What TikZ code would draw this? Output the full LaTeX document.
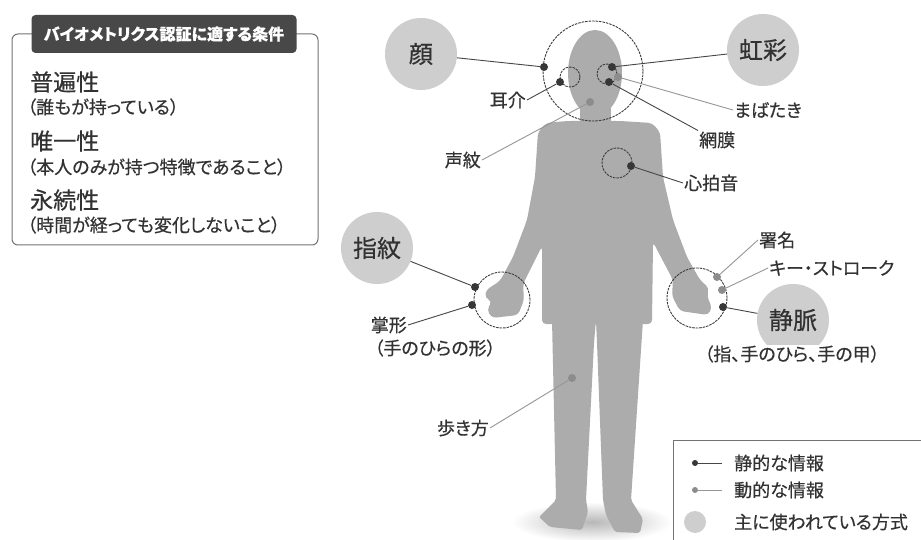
\documentclass[tikz,border=0pt]{standalone}
\usepackage{fontspec}
\setmainfont{Noto Sans CJK JP}[RawFeature={+palt}, FakeBold=0.5]
\usepackage{tikz}
\usetikzlibrary{positioning}
\usepackage{xcolor}

\definecolor{bodyGray}{RGB}{172,172,172}
\definecolor{labelGray}{RGB}{206,206,206}
\definecolor{dotDark}{RGB}{55,55,55}
\definecolor{dotLight}{RGB}{140,140,140}
\definecolor{lineDark}{RGB}{70,70,70}
\definecolor{lineLight}{RGB}{150,150,150}
\definecolor{ringDark}{RGB}{60,60,60}
\definecolor{textGray}{RGB}{50,50,50}
\definecolor{titleDark}{RGB}{72,72,72}
\definecolor{frameGray}{RGB}{115,115,115}

\begin{document}
\begin{tikzpicture}[x=1pt, y=-1pt,
  bigLabel/.style={circle, fill=labelGray, minimum size=72pt, inner sep=0pt, text=textGray, font=\fontsize{24}{26}\selectfont},
  partLabel/.style={inner sep=1pt, text=textGray, font=\fontsize{18}{20}\selectfont},
  darkDot/.style={circle, fill=dotDark, minimum size=8pt, inner sep=0pt},
  lightDot/.style={circle, fill=dotLight, minimum size=8pt, inner sep=0pt},
  darkLine/.style={draw=lineDark, line width=0.9pt},
  lightLine/.style={draw=lineLight, line width=0.9pt},
  zoomRing/.style={circle, draw=ringDark, line width=0.9pt, dash pattern=on 2.5pt off 1pt, inner sep=0pt},
  condHead/.style={anchor=west, inner sep=0pt, text=textGray, font=\fontsize{23}{25}\selectfont},
  condNote/.style={anchor=west, inner sep=0pt, text=textGray, font=\fontsize{18}{20}\selectfont}
]
\useasboundingbox (0,0) rectangle (921,540);
\fill[white] (0,0) rectangle (921,540);

% conditions box
\draw[frameGray, line width=1pt, rounded corners=6pt] (12,34) rectangle (318,245);
\node[fill=titleDark, rounded corners=4pt, minimum width=265pt, minimum height=38pt, text=white,
      font=\fontsize{16}{18}\selectfont\bfseries] (condTitle) at (164,34) {バイオメトリクス認証に適する条件};
\node[condHead] (univ)     at (30,82)  {普遍性};
\node[condNote] (univNote) at (27,107) {（誰もが持っている）};
\node[condHead] (uniq)     at (30,141) {唯一性};
\node[condNote] (uniqNote) at (27,167) {（本人のみが持つ特徴であること）};
\node[condHead] (perm)     at (30,200) {永続性};
\node[condNote] (permNote) at (27,225) {（時間が経っても変化しないこと）};

% silhouette
\shade[inner color=black!28, outer color=white] (592,522) ellipse (80 and 20);
\fill[bodyGray, rounded corners=2pt] (552,320) -- (596,320) -- (594,343) -- (586,500) -- (588,512)
  -- (582,530) -- (550,527) -- (539,517) -- (556,500) -- cycle;
\fill[bodyGray, rounded corners=2pt] (596,320) -- (643,320) -- (631,500) -- (643,519) -- (640,533)
  -- (615,532) -- (606,515) -- (603,500) -- (597,343) -- cycle;
\fill[bodyGray, rounded corners=4pt]
  (567,121) -- (546,123) -- (538,132) -- (535,177) -- (527,220) -- (513,257) -- (500,281)
  -- (486,290) -- (485,298) -- (492,301) -- (487,310) -- (492,318) -- (518,315) -- (524,300) -- (523,284)
  -- (542,246) -- (542,324) -- (652,324) -- (653,242)
  -- (673,280) -- (672,296) -- (680,311) -- (708,315) -- (712,308) -- (707,296) -- (709,288) -- (700,280)
  -- (687,257) -- (673,220) -- (663,177) -- (660,132) -- (652,123) -- (620,121) -- cycle;
\fill[bodyGray] (580,100) rectangle (611,125);
\fill[bodyGray] (595,73) ellipse (27 and 43);

% rings
\node[zoomRing, minimum size=100pt] (headRing)  at (593,71)  {};
\node[zoomRing, minimum size=20pt]  (earRing)   at (570,77)  {};
\node[zoomRing, minimum size=20pt]  (eyeRing)   at (607,74)  {};
\node[zoomRing, minimum size=30pt]  (heartRing) at (617,163) {};
\node[zoomRing, minimum size=56pt]  (lhandRing) at (502,300) {};
\node[zoomRing, minimum size=60pt]  (rhandRing) at (697,298) {};

% main methods
\node[bigLabel] (face)   at (421,54)  {顔};
\node[bigLabel] (iris)   at (763,50)  {虹彩};
\node[bigLabel] (finger) at (377,248) {指紋};
\node[bigLabel] (vein)   at (793,320) {静脈};
\node[partLabel, fill=white, inner sep=0pt] (veinNote) at (792,354) {（指、手のひら、手の甲）};

% dots
\node[darkDot]  (faceDot)   at (544,67)  {};
\node[darkDot]  (earDot)    at (560,82)  {};
\node[darkDot]  (irisDot)   at (612,67)  {};
\node[darkDot]  (retinaDot) at (609,82)  {};
\node[lightDot] (blinkDot)  at (618,77)  {};
\node[lightDot] (voiceDot)  at (590,102) {};
\node[darkDot]  (heartDot)  at (631,166) {};
\node[darkDot]  (fingerDot) at (475,287) {};
\node[darkDot]  (palmDot)   at (472,305) {};
\node[lightDot] (signDot)   at (717,277) {};
\node[lightDot] (keyDot)    at (722,290) {};
\node[darkDot]  (veinDot)   at (723,307) {};
\node[lightDot] (gaitDot)   at (572,378) {};

% part labels
\node[partLabel, anchor=east] (earLbl)    at (527,100) {耳介};
\node[partLabel, anchor=east] (voiceLbl)  at (482,160) {声紋};
\node[partLabel, anchor=west] (blinkLbl)  at (733,110) {まばたき};
\node[partLabel, anchor=west] (retinaLbl) at (698,140) {網膜};
\node[partLabel, anchor=west] (heartLbl)  at (683,183) {心拍音};
\node[partLabel, anchor=east] (palmLbl)   at (408,325) {掌形};
\node[partLabel] (palmNote) at (435,348) {（手のひらの形）};
\node[partLabel, anchor=west] (signLbl)   at (758,240) {署名};
\node[partLabel, anchor=west] (keyLbl)    at (768,268) {キー・ストローク};
\node[partLabel, anchor=east] (gaitLbl)   at (490,428) {歩き方};

% leaders
\draw[darkLine]  (face) -- (faceDot);
\draw[darkLine]  (earLbl.east) -- (earDot);
\draw[darkLine]  (irisDot) -- (iris);
\draw[lightLine] (blinkDot) -- (blinkLbl.west);
\draw[darkLine]  (retinaDot) -- (retinaLbl.north west);
\draw[lightLine] (voiceLbl.east) -- (voiceDot);
\draw[darkLine]  (heartDot) -- (heartLbl.west);
\draw[darkLine]  (finger) -- (fingerDot);
\draw[darkLine]  (palmLbl.east) -- (palmDot);
\draw[lightLine] (signDot) -- (signLbl.west);
\draw[lightLine] (keyDot) -- (keyLbl.west);
\draw[darkLine]  (veinDot) -- (vein);
\draw[lightLine] (gaitLbl.east) -- (gaitDot);

% legend
\draw[frameGray, line width=1pt] (673,440) rectangle (940,560);
\node[darkDot, minimum size=6pt]  (keyStatic)  at (695,463) {};
\coordinate (keyStaticEnd) at (722,463);
\draw[darkLine] (keyStatic) -- (keyStaticEnd);
\node[partLabel, anchor=west] (keyStaticLbl) at (733,463) {静的な情報};
\node[lightDot, minimum size=6pt] (keyDynamic) at (695,490) {};
\coordinate (keyDynamicEnd) at (722,490);
\draw[lightLine] (keyDynamic) -- (keyDynamicEnd);
\node[partLabel, anchor=west] (keyDynamicLbl) at (733,490) {動的な情報};
\node[circle, fill=labelGray, minimum size=22pt, inner sep=0pt] (keyMain) at (695,522) {};
\node[partLabel, anchor=west] (keyMainLbl) at (733,522) {主に使われている方式};
\end{tikzpicture}
\end{document}
